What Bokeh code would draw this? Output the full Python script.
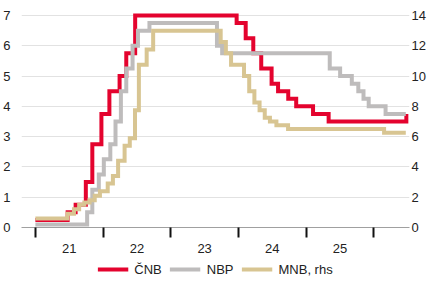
import numpy as np
import pandas as pd
from bokeh.plotting import figure
from bokeh.layouts import column
from bokeh.models import (Range1d, LinearAxis, FixedTicker, Legend, LegendItem)
from bokeh.embed import file_html
from bokeh.resources import INLINE

# ---------------- data ----------------
cnb_dates = ["2021-01-01", "2021-06-24", "2021-08-06", "2021-09-30", "2021-11-04", "2021-12-23",
             "2022-02-04", "2022-03-31", "2022-05-06", "2022-06-23", "2023-12-22", "2024-02-09",
             "2024-03-21", "2024-05-03", "2024-06-28", "2024-08-02", "2024-09-26", "2024-11-08",
             "2025-02-07", "2025-05-02", "2026-06-25"]
cnb_rates = [0.25, 0.50, 0.75, 1.50, 2.75, 3.75,
             4.50, 5.00, 5.75, 7.00, 6.75, 6.25,
             5.75, 5.25, 4.75, 4.50, 4.25, 4.00,
             3.75, 3.50, 3.75]

nbp_dates = ["2021-01-01", "2021-10-07", "2021-11-04", "2021-12-09", "2022-01-05", "2022-02-09",
             "2022-03-09", "2022-04-07", "2022-05-06", "2022-06-09", "2022-07-08", "2022-09-08",
             "2023-09-07", "2023-10-05", "2025-05-08", "2025-07-03", "2025-09-04", "2025-10-09",
             "2025-11-06", "2025-12-04", "2026-03-05", "2026-06-22"]
nbp_rates = [0.10, 0.50, 1.25, 1.75, 2.25, 2.75,
             3.50, 4.50, 5.25, 6.00, 6.50, 6.75,
             6.00, 5.75, 5.25, 5.00, 4.75, 4.50,
             4.25, 4.00, 3.75, 3.75]

mnb_dates = ["2021-01-01", "2021-06-23", "2021-07-28", "2021-08-25", "2021-09-22", "2021-10-20",
             "2021-11-17", "2021-12-15", "2022-01-26", "2022-02-23", "2022-03-23", "2022-04-27",
             "2022-05-25", "2022-06-22", "2022-07-13", "2022-08-24", "2022-09-28", "2023-09-27",
             "2023-10-25", "2023-11-22", "2024-01-31", "2024-02-28", "2024-03-27", "2024-04-24",
             "2024-05-22", "2024-06-19", "2024-07-24", "2024-09-25", "2026-02-25", "2026-06-22"]
mnb_rates = [0.60, 0.90, 1.20, 1.50, 1.65, 1.80,
             2.10, 2.40, 2.90, 3.40, 4.40, 5.40,
             5.90, 7.75, 10.75, 11.75, 13.00, 12.25,
             11.50, 10.75, 10.00, 9.00, 8.25, 7.75,
             7.25, 7.00, 6.75, 6.50, 6.25, 6.25]

years = [2021, 2022, 2023, 2024, 2025, 2026]
year_labels = ["21", "22", "23", "24", "25"]
left_ticks = [0, 1, 2, 3, 4, 5, 6, 7]
right_ticks = [0, 2, 4, 6, 8, 10, 12, 14]

series_names = ["ČNB", "NBP", "MNB, rhs"]
series_colors = ["#e4032e", "#bebcbc", "#d8c592"]


def dec_year(dates):
    d = pd.to_datetime(pd.Series(dates))
    start = pd.to_datetime(d.dt.year.astype(str) + "-01-01")
    ndays = 365 + d.dt.is_leap_year.astype(int)
    return list(d.dt.year + (d - start).dt.days / ndays)


FONT = "Liberation Sans"

p = figure(width=428, height=258, output_backend="svg", toolbar_location=None,
           x_range=Range1d(2020.795, 2026.526), y_range=Range1d(0, 7.33),
           min_border_left=20, min_border_right=16, min_border_top=5, min_border_bottom=31,
           outline_line_color=None, background_fill_color="white", border_fill_color="white")
p.extra_y_ranges = {"right": Range1d(0, 14.66)}

# axes
p.xaxis.visible = False
p.yaxis.visible = False
p.xgrid.visible = False

xax = LinearAxis(ticker=FixedTicker(ticks=[y + 0.5 for y in years[:-1]], minor_ticks=years))
xax.major_label_overrides = {y + 0.5: lab for y, lab in zip(years[:-1], year_labels)}
xax.major_tick_line_color = None
xax.major_tick_out = 10
xax.major_tick_in = 0
xax.minor_tick_out = 10
xax.minor_tick_in = 0
xax.minor_tick_line_color = "#111111"
xax.minor_tick_line_width = 2
xax.axis_line_color = "#a0a0a0"
xax.axis_line_width = 1
xax.major_label_standoff = 6
xax.major_label_text_font = FONT
xax.major_label_text_font_size = "13px"
xax.major_label_text_color = "#222222"
p.add_layout(xax, "below")

lax = LinearAxis(ticker=FixedTicker(ticks=left_ticks))
lax.axis_line_color = None
lax.major_tick_line_color = None
lax.minor_tick_line_color = None
lax.major_tick_out = 0
lax.major_tick_in = 0
lax.major_label_standoff = 11
lax.major_label_text_font = FONT
lax.major_label_text_font_size = "13px"
lax.major_label_text_color = "#222222"
p.add_layout(lax, "left")

rax = LinearAxis(y_range_name="right", ticker=FixedTicker(ticks=right_ticks))
rax.axis_line_color = None
rax.major_tick_line_color = None
rax.minor_tick_line_color = None
rax.major_tick_out = 0
rax.major_tick_in = 0
rax.major_label_standoff = 2
rax.major_label_text_font = FONT
rax.major_label_text_font_size = "13px"
rax.major_label_text_color = "#222222"
p.add_layout(rax, "right")

p.ygrid.ticker = FixedTicker(ticks=left_ticks)
p.ygrid.grid_line_color = "#e2e2e2"
p.ygrid.grid_line_width = 1

p.step(dec_year(cnb_dates), cnb_rates, mode="after", line_color=series_colors[0],
       line_width=4, line_join="miter")
p.step(dec_year(nbp_dates), nbp_rates, mode="after", line_color=series_colors[1],
       line_width=4, line_join="miter")
p.step(dec_year(mnb_dates), mnb_rates, mode="after", line_color=series_colors[2],
       line_width=4, line_join="miter", y_range_name="right")

# ---- legend strip (legend-only renderers with no visible data) ----
lg = figure(width=428, height=22, output_backend="svg", toolbar_location=None,
            x_range=Range1d(0, 1), y_range=Range1d(0, 1),
            min_border_left=0, min_border_right=0, min_border_top=0, min_border_bottom=0,
            outline_line_color=None, background_fill_color="white", border_fill_color="white")
lg.axis.visible = False
lg.grid.visible = False
items = []
for name, col in zip(series_names, series_colors):
    r = lg.line(x=np.array([np.nan]), y=np.array([np.nan]), line_color=col, line_width=4)
    items.append(LegendItem(label=name, renderers=[r]))

legend = Legend(items=items, orientation="horizontal", location="center",
                border_line_color=None, background_fill_alpha=0,
                padding=0, margin=0, spacing=8, label_standoff=6,
                glyph_width=31, glyph_height=18, label_height=18,
                label_text_font=FONT, label_text_font_size="13px",
                label_text_color="#222222")
lg.add_layout(legend, "center")

layout = column(p, lg, spacing=0)
open("out.html", "w").write(file_html(layout, INLINE))
